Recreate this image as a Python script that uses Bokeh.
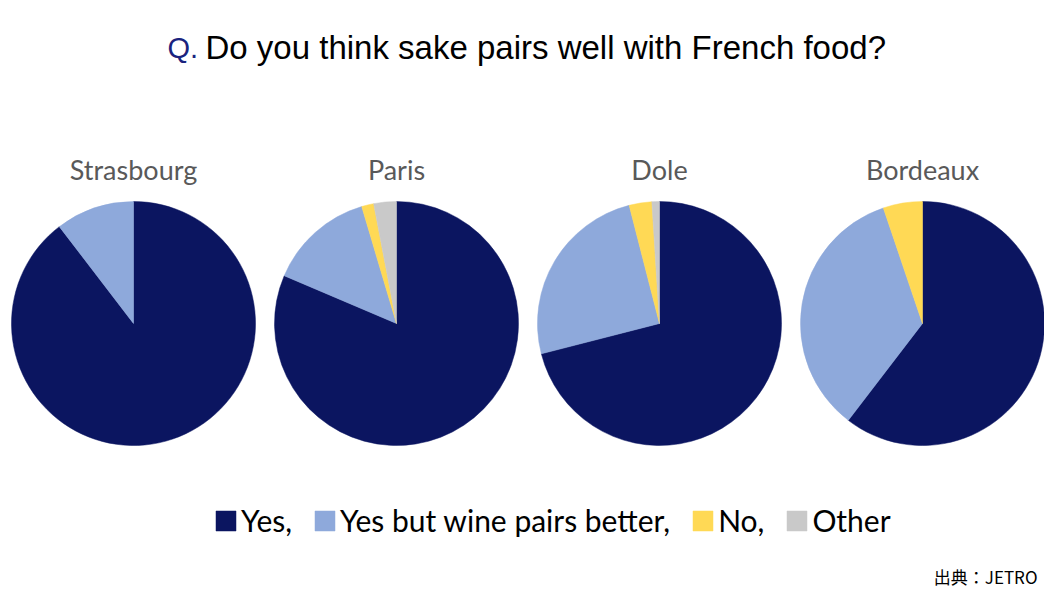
from bokeh.plotting import figure
from bokeh.models import Range1d, Label, Legend, LegendItem, ColumnDataSource
from bokeh.core.properties import value
from bokeh.embed import file_html
from bokeh.resources import INLINE
import math

# ---- data ----
cities = ["Strasbourg", "Paris", "Dole", "Bordeaux"]
yes = [89.6, 81.4, 71.0, 60.4]
yes_but = [10.4, 14.0, 25.0, 34.4]
no = [0.0, 1.6, 3.0, 5.2]
other = [0.0, 3.0, 1.0, 0.0]
series_labels = ["Yes,", "Yes but wine pairs better,", "No,", "Other"]
series_colors = ["#0B1560", "#8EA9DB", "#FFD955", "#C9C9C9"]
title_q = "Q."
title_text = "Do you think sake pairs well with French food?"
source_text = "出典：JETRO"

W, H = 1044, 590
p = figure(width=W, height=H, output_backend="svg", toolbar_location=None,
           x_range=Range1d(-0.5057, 3.4639), y_range=Range1d(0, H), min_border=0)
p.axis.visible = False
p.grid.visible = False
p.outline_line_color = None
p.background_fill_color = "white"

pos = list(range(len(cities)))
series = [yes, yes_but, no, other]
totals = [sum(v) for v in zip(*series)]
cum = [0.0] * len(cities)
renderers = []
for vals, col in zip(series, series_colors):
    xs, st, en = [], [], []
    for i in pos:
        frac0 = cum[i] / totals[i]
        frac1 = (cum[i] + vals[i]) / totals[i]
        cum[i] += vals[i]
        if vals[i] <= 0:
            continue
        xs.append(i)
        st.append(math.pi / 2 - 2 * math.pi * frac0)
        en.append(math.pi / 2 - 2 * math.pi * frac1)
    src = ColumnDataSource(dict(x=xs, y=[267] * len(xs), s=st, e=en))
    r = p.wedge(x="x", y="y", radius=122, radius_units="screen", start_angle="s", end_angle="e",
                direction="clock", source=src, fill_color=col, line_color=col, line_width=0.5)
    renderers.append(r)

# pie titles
tsrc = ColumnDataSource(dict(x=pos, y=[421] * len(cities), t=cities))
p.text(x="x", y="y", text="t", source=tsrc, text_align="center", text_baseline="alphabetic",
       text_font=value("Lato"), text_font_size="27px", text_color="#595959")

# legend
legend = Legend(items=[LegendItem(label=l, renderers=[r]) for l, r in zip(series_labels, renderers)],
                orientation="horizontal", location=(213, 52),
                glyph_width=25, glyph_height=25, label_height=25, label_standoff=3, spacing=20,
                padding=0, margin=0, border_line_color=None, background_fill_alpha=0,
                label_text_font="Lato", label_text_font_size="30px", label_text_color="#000000")
p.add_layout(legend, "center")

# title
p.add_layout(Label(x=167, y=543, x_units="screen", y_units="screen", text=title_q,
                   text_font="Liberation Sans", text_font_size="29px", text_color="#1A237E",
                   text_baseline="alphabetic"))
p.add_layout(Label(x=205, y=543, x_units="screen", y_units="screen", text=title_text,
                   text_font="Liberation Sans", text_font_size="33px", text_color="#000000",
                   text_baseline="alphabetic"))
# source
p.add_layout(Label(x=1037, y=14, x_units="screen", y_units="screen", text=source_text,
                   text_font="Noto Sans CJK JP", text_font_size="17px", text_color="#000000",
                   text_align="right", text_baseline="alphabetic"))

open("out.html", "w").write(file_html(p, INLINE))
